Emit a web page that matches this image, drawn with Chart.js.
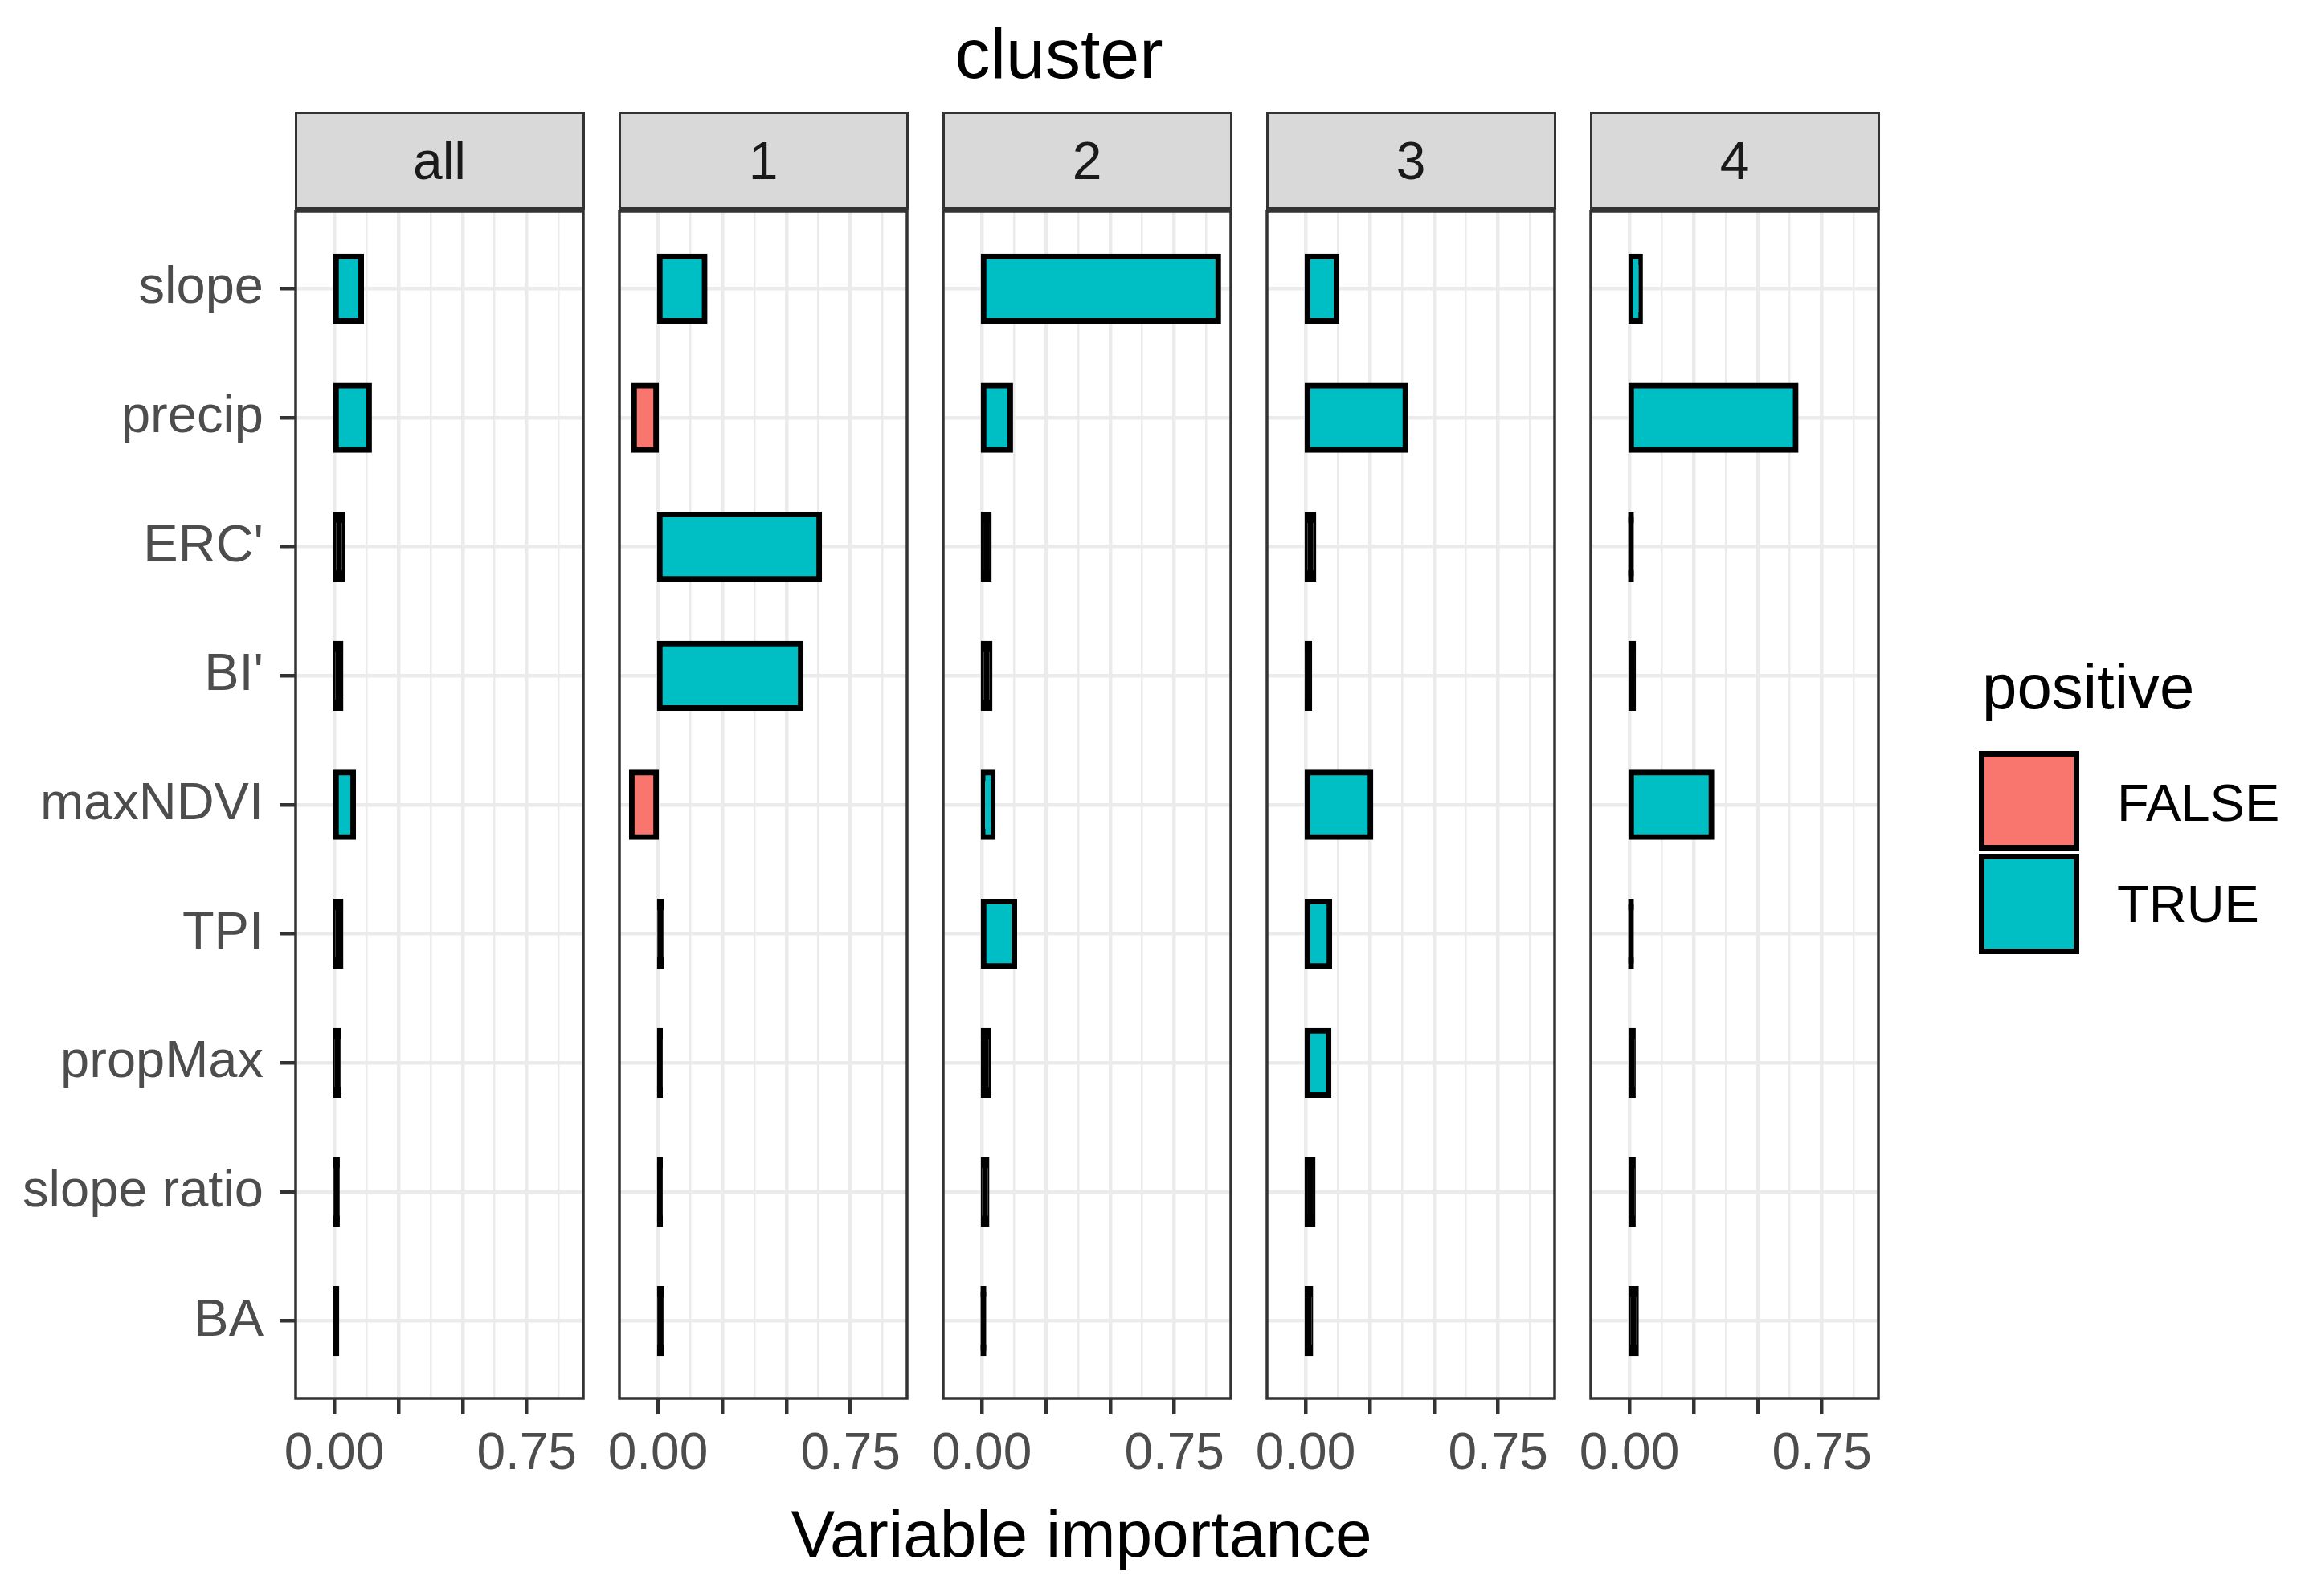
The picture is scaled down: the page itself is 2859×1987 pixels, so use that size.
<!DOCTYPE html>
<html>
<head>
<meta charset="utf-8">
<script src="https://cdn.jsdelivr.net/npm/chart.js@4.4.1/dist/chart.umd.min.js"></script>
<style>
    html, body { margin: 0; padding: 0; background: #fff; }
    body {
        width: 2859px; height: 1987px; position: relative; overflow: hidden;
        font-family: "Liberation Sans", Arial, sans-serif;
    }
    .txt { position: absolute; line-height: 1; white-space: nowrap; }
    .strip {
        position: absolute; box-sizing: border-box; background: #d9d9d9;
        border: 3px solid #333; color: #1a1a1a; font-size: 66px;
        display: flex; align-items: center; justify-content: center;
    }
    .key { position: absolute; box-sizing: border-box; border: 7px solid #000; }
    canvas { position: absolute; }
</style>
</head>
<body>
<div class="txt" style="left:1318px;top:23px;font-size:88px;color:#000;transform:translateX(-50%)">cluster</div>
<div class="txt" style="left:1346px;top:1869px;font-size:82px;color:#000;transform:translateX(-50%)">Variable importance</div>

<div class="txt" style="left:2467px;top:816px;font-size:78px;color:#000">positive</div>
<div class="key" style="left:2463px;top:935px;width:125px;height:124px;background:#F8766D"></div>
<div class="key" style="left:2463px;top:1063px;width:125px;height:125px;background:#00BFC4"></div>
<div class="txt" style="left:2635px;top:967px;font-size:65px;color:#000">FALSE</div>
<div class="txt" style="left:2635px;top:1093px;font-size:65px;color:#000">TRUE</div>

<script>
document.addEventListener("DOMContentLoaded", () => {
    const categories = ["slope", "precip", "ERC'", "BI'", "maxNDVI", "TPI", "propMax", "slope ratio", "BA"];
    const panelNames = ["all", "1", "2", "3", "4"];

    // variable importance per cluster, same order as categories
    const importanceAll = [0.105, 0.136, 0.031, 0.025, 0.074, 0.025, 0.017, 0.011, 0.009];
    const importance1 = [0.182, -0.093, 0.628, 0.556, -0.102, 0.012, 0.008, 0.008, 0.014];
    const importance2 = [0.921, 0.111, 0.028, 0.031, 0.043, 0.127, 0.026, 0.019, 0.006];
    const importance3 = [0.121, 0.389, 0.031, 0.015, 0.253, 0.093, 0.090, 0.028, 0.019];
    const importance4 = [0.042, 0.648, 0.006, 0.015, 0.320, 0.006, 0.014, 0.014, 0.026];
    const panelValues = [importanceAll, importance1, importance2, importance3, importance4];

    const xGridValues = [0, 0.125, 0.25, 0.375, 0.5, 0.625, 0.75, 0.875];
    const xMajorTicks = [0, 0.25, 0.5, 0.75];
    const xTickLabels = ["0.00", "", "", "0.75"];

    const colorTrue = "#00BFC4";
    const colorFalse = "#F8766D";
    Chart.defaults.font.family = '"Liberation Sans", Arial, sans-serif';

    // panel geometry (px)
    const plotLefts = [368, 771, 1174, 1577, 1980];
    const plotW = 358;
    const plotTop = 263;
    const plotH = 1478;
    const xAxisH = 120;
    const pad = 8;
    const lineW = 7;

    const panelBorder = {
        id: "panelBorder",
        afterDatasetsDraw: (chart) => {
            const a = chart.chartArea;
            const ctx = chart.ctx;
            ctx.save();
            ctx.strokeStyle = "#333";
            ctx.lineWidth = 3.5;
            ctx.strokeRect(a.left, a.top, a.right - a.left, a.bottom - a.top);
            ctx.restore();
        }
    };

    // tiny bars are all outline in the original, so fill them black
    const fillFor = (ctx) => {
        if (!ctx.raw) return colorTrue;
        const v = ctx.raw.x;
        const sx = ctx.chart.scales.x;
        const w = Math.abs(sx.getPixelForValue(v) - sx.getPixelForValue(0));
        if (w < 1.5 * lineW) return "#000";
        return v >= 0 ? colorTrue : colorFalse;
    };

    panelNames.forEach((name, i) => {
        const yW = i === 0 ? 368 : 0;
        const padL = i === 0 ? pad : 40;

        const strip = document.createElement("div");
        strip.className = "strip";
        strip.style.left = (plotLefts[i] - 1.5) + "px";
        strip.style.top = "139px";
        strip.style.width = (plotW + 3) + "px";
        strip.style.height = "122px";
        strip.textContent = name;
        document.body.appendChild(strip);

        const canvas = document.createElement("canvas");
        const cw = yW + plotW + padL + pad;
        const ch = plotH + xAxisH + 2 * pad;
        canvas.width = cw;
        canvas.height = ch;
        canvas.style.width = cw + "px";
        canvas.style.height = ch + "px";
        canvas.style.left = (plotLefts[i] - yW - padL) + "px";
        canvas.style.top = (plotTop - pad) + "px";
        document.body.appendChild(canvas);

        new Chart(canvas.getContext("2d"), {
            type: "bar",
            data: {
                datasets: [{
                    data: panelValues[i].map((v, k) => ({ x: v, y: k })),
                    backgroundColor: fillFor,
                    borderColor: "#000",
                    borderWidth: lineW,
                    borderSkipped: false,
                    inflateAmount: lineW / 2,
                    barPercentage: 0.5,
                    categoryPercentage: 1,
                }]
            },
            options: {
                indexAxis: "y",
                responsive: false,
                animation: false,
                devicePixelRatio: 1,
                events: [],
                layout: { padding: { left: padL, right: pad, top: pad, bottom: pad } },
                plugins: {
                    legend: { display: false },
                    tooltip: { enabled: false },
                },
                scales: {
                    x: {
                        type: "linear",
                        min: -0.15,
                        max: 0.97,
                        afterBuildTicks: (s) => { s.ticks = xGridValues.map((v) => ({ value: v })); },
                        afterFit: (s) => {
                            s.height = xAxisH;
                            s.paddingLeft = 0;
                            s.paddingRight = 0;
                        },
                        border: { display: false },
                        grid: {
                            color: "#ebebeb",
                            lineWidth: (c) => xMajorTicks.includes(c.tick.value) ? 4.5 : 2.5,
                            tickLength: 20,
                            tickWidth: 4.5,
                            tickColor: (c) => xMajorTicks.includes(c.tick.value) ? "#333" : "rgba(0,0,0,0)",
                        },
                        ticks: {
                            autoSkip: false,
                            maxRotation: 0,
                            padding: 12,
                            color: "#4d4d4d",
                            font: { size: 64 },
                            callback: (v) => {
                                const j = xMajorTicks.indexOf(v);
                                return j >= 0 ? xTickLabels[j] : "";
                            }
                        }
                    },
                    y: {
                        type: "linear",
                        reverse: true,
                        offset: false,
                        min: -0.6,
                        max: 8.6,
                        afterBuildTicks: (s) => { s.ticks = categories.map((c, k) => ({ value: k })); },
                        afterFit: (s) => {
                            s.width = yW;
                            s.paddingTop = 0;
                            s.paddingBottom = 0;
                        },
                        border: { display: false },
                        grid: {
                            offset: false,
                            color: "#ebebeb",
                            lineWidth: 4.5,
                            drawTicks: i === 0,
                            tickLength: i === 0 ? 20 : 0,
                            tickWidth: 4.5,
                            tickColor: "#333",
                        },
                        ticks: {
                            display: i === 0,
                            autoSkip: false,
                            padding: 20,
                            color: "#4d4d4d",
                            font: { size: 65 },
                            callback: (v) => categories[v],
                        }
                    }
                }
            },
            plugins: [panelBorder],
        });
    });
});
</script>
</body>
</html>
